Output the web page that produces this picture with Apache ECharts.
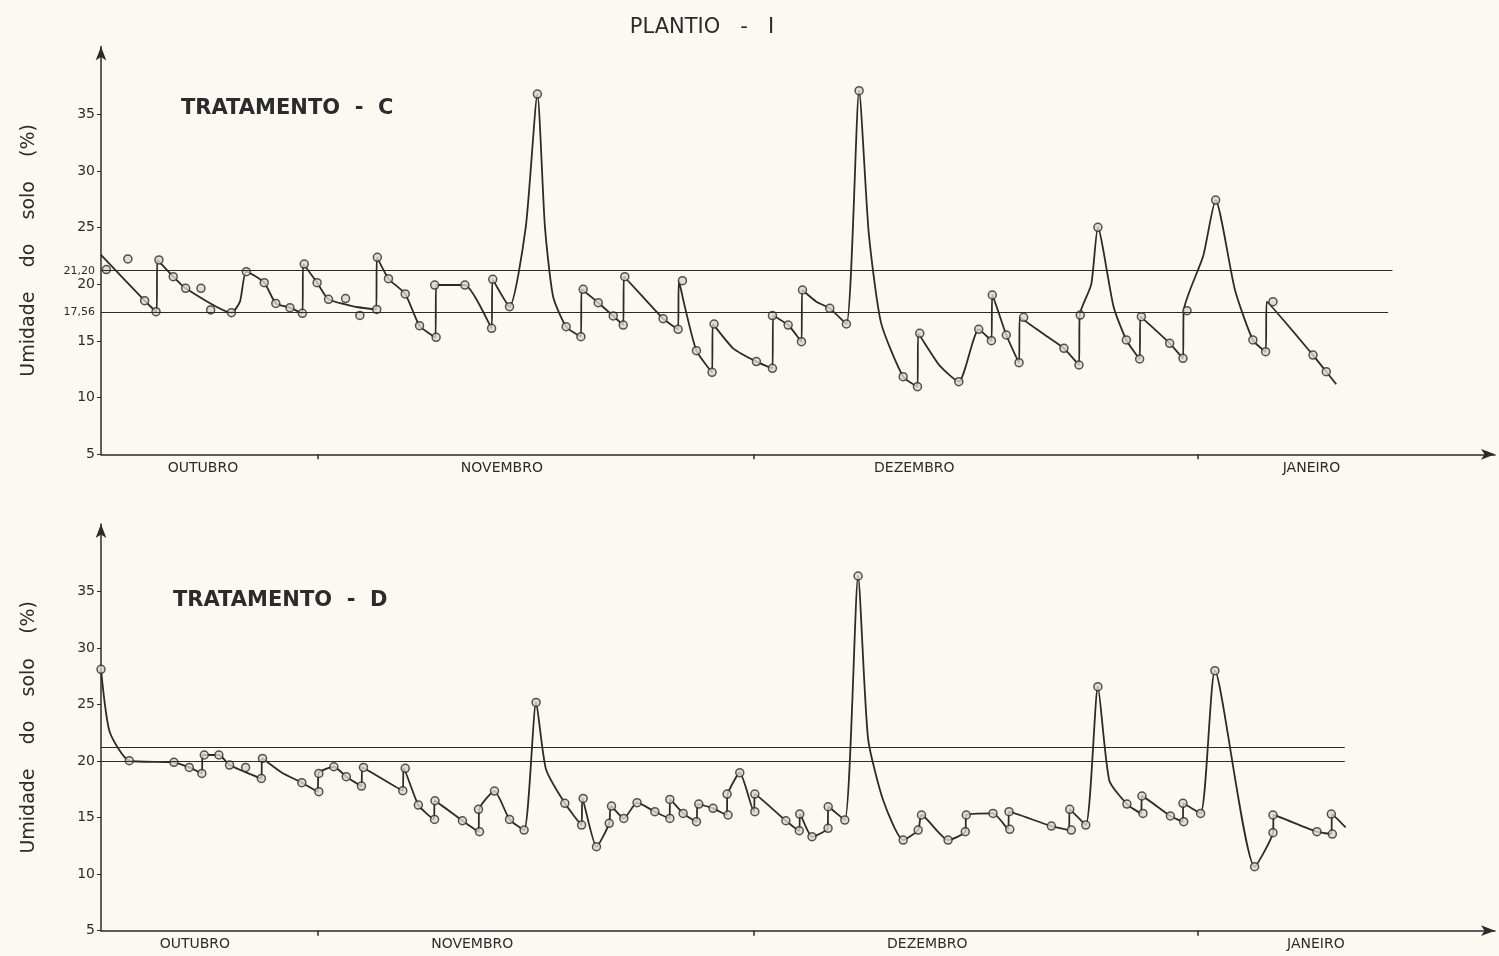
<!DOCTYPE html>
<html><head><meta charset="utf-8">
<script src="https://cdn.jsdelivr.net/npm/echarts@6/dist/echarts.min.js"></script>
<style>html,body{margin:0;padding:0;background:#fbfaf2}#c{width:1499px;height:956px}</style>
</head><body><div id="c"></div>
<script>
// x = days since ~16 October; y = soil moisture (%)
const monthNames = ['OUTUBRO', 'NOVEMBRO', 'DEZEMBRO', 'JANEIRO'];
const monthLabelPosC = [7.06, 27.75, 56.3, 83.8];
const monthLabelPosD = [6.5, 25.7, 57.2, 84.1];
const monthBoundaries = [15.0, 45.2, 75.9];

const yTicks = [5, 10, 15, 20, 25, 30, 35];
const yLabelValsC = [5, 10, 15, 17.56, 20, 21.2, 25, 30, 35];
const yLabelTextC = ['5', '10', '15', '17,56', '20', '21,20', '25', '30', '35'];

const refLevelsC = [21.2, 17.56];
const refEndC = [89.4, 89.1];
const refLevelsD = [21.2, 20.0];
const refEndD = [86.1, 86.1];

// Tratamento C: drawn curve
const cCurve = [
  [0.00,22.6],[3.02,18.56],[3.85,17.55],[3.90,22.15],[5.00,20.68],[5.86,19.65],[9.03,17.5],
  [9.62,18.47],[10.06,21.12],[11.30,20.15],[12.10,18.32],[13.08,17.94],[13.94,17.44],
  [14.00,21.79],[14.96,20.15],[15.75,18.68],[17.70,18.0],[19.05,17.79],[19.10,22.38],
  [19.90,20.5],[21.06,19.15],[22.05,16.35],[23.15,15.32],[23.20,19.94],[25.19,19.94],
  [27.04,16.12],[27.10,20.44],[28.28,18.03],[29.40,25.0],[30.21,36.79],
  [30.73,25.1],[31.30,18.9],[32.20,16.26],[33.22,15.38],
  [33.27,19.56],[34.42,18.38],[35.46,17.21],[36.15,16.41],[36.20,20.68],[38.91,16.97],
  [39.95,16.03],[40.00,20.32],[40.42,18.0],[41.22,14.15],[42.30,12.24],[42.35,16.5],
  [43.76,14.35],[45.37,13.18],[46.48,12.59],[46.53,17.24],[47.57,16.41],[48.49,14.94],
  [48.54,19.5],[49.52,18.47],[50.45,17.88],[51.60,16.5],[52.48,37.09],
  [53.15,24.5],[54.00,16.6],[55.53,11.85],[56.52,10.97],[56.57,15.68],
  [58.06,12.82],[59.38,11.41],[60.76,16.03],[61.64,15.03],[61.70,19.06],[62.67,15.53],
  [63.55,13.09],[63.60,17.09],[65.44,15.44],[66.66,14.35],[67.70,12.88],[67.75,17.29],
  [68.55,20.0],[69.01,25.03],[70.10,18.0],[70.98,15.09],[71.90,13.41],
  [71.95,17.15],[73.98,14.79],[74.90,13.47],[74.95,17.68],[76.30,22.5],
  [77.16,27.44],[78.50,19.5],[79.74,15.09],[80.62,14.06],[80.70,18.47],
  [83.90,13.76],[84.82,12.29],[85.51,11.18]
];
// Tratamento C: observed points
const cPoints = [
  [0.37,21.3],[1.86,22.24],[3.02,18.56],[3.81,17.59],[4.01,22.15],[5.0,20.68],[5.86,19.65],
  [6.92,19.65],[7.59,17.74],[9.03,17.5],[10.06,21.12],[11.3,20.15],[12.1,18.32],[13.08,17.94],
  [13.94,17.44],[14.07,21.79],[14.96,20.15],[15.75,18.68],[16.93,18.74],[17.92,17.26],
  [19.09,17.79],[19.13,22.38],[19.9,20.5],[21.06,19.15],[22.05,16.35],[23.2,15.32],
  [23.1,19.94],[25.19,19.94],[27.04,16.12],[27.12,20.44],[28.28,18.03],[30.21,36.79],
  [32.2,16.26],[33.22,15.38],[33.38,19.56],[34.42,18.38],[35.46,17.21],[36.15,16.41],
  [36.26,20.68],[38.91,16.97],[39.95,16.03],[40.25,20.32],[41.22,14.15],[42.3,12.24],
  [42.44,16.5],[45.37,13.18],[46.48,12.59],[46.48,17.24],[47.57,16.41],[48.49,14.94],
  [48.56,19.5],[50.45,17.88],[51.6,16.5],[52.48,37.09],[55.53,11.85],[56.52,10.97],
  [56.68,15.68],[59.38,11.41],[60.76,16.03],[61.64,15.03],[61.7,19.06],[62.67,15.53],
  [63.55,13.09],[63.87,17.09],[66.66,14.35],[67.7,12.88],[67.79,17.29],[69.01,25.03],
  [70.98,15.09],[71.9,13.41],[72.02,17.15],[73.98,14.79],[74.9,13.47],[75.18,17.68],
  [77.16,27.44],[79.74,15.09],[80.62,14.06],[81.13,18.47],[83.9,13.76],[84.82,12.29]
];

// Tratamento D: drawn curve
const dCurve = [
  [0.00,28.13],[0.60,22.6],[1.96,20.04],[5.05,19.9],[6.11,19.45],[6.98,18.92],
  [7.03,20.55],[8.16,20.55],[8.90,19.66],[11.10,18.48],[11.15,20.25],[12.50,19.0],[13.90,18.1],
  [15.00,17.3],[15.05,18.92],[16.12,19.51],[16.98,18.63],[18.03,17.8],[18.08,19.45],
  [20.89,17.39],[20.95,19.37],[21.97,16.12],[23.05,14.85],[23.10,16.5],[25.02,14.73],
  [26.13,13.76],[26.18,15.74],[27.24,17.36],[28.28,14.85],[29.29,13.91],[30.12,25.2],
  [30.80,19.3],[32.11,16.27],[33.27,14.35],[33.32,16.71],[34.30,12.43],
  [35.18,14.5],[35.30,16.03],[36.19,14.94],[37.11,16.33],[38.34,15.53],[39.35,14.94],
  [39.40,16.62],[40.30,15.38],[41.22,14.65],[41.30,16.21],[42.37,15.83],[43.30,15.24],
  [43.38,17.09],[44.22,18.98],[45.20,15.53],[45.26,17.09],[47.41,14.73],[48.34,13.85],
  [48.39,15.32],[49.22,13.32],[50.30,14.06],[50.35,15.97],[51.49,14.79],[52.41,36.39],
  [53.10,22.0],[54.14,16.56],[55.53,13.02],[56.57,13.91],
  [56.80,15.24],[58.64,13.02],[59.83,13.76],[59.90,15.24],[61.75,15.38],[62.80,13.97],
  [62.86,15.53],[65.79,14.26],[67.00,13.91],[67.06,15.74],[68.17,14.35],[69.01,26.59],
  [69.80,18.3],[71.02,16.21],[72.00,15.38],[72.06,16.92],[74.03,15.15],
  [74.88,14.65],[74.93,16.27],[76.12,15.38],[77.11,28.01],[79.86,10.66],[81.13,13.67],
  [81.18,15.24],[84.17,13.76],[85.17,13.55],[85.22,15.32],[86.16,14.14]
];
// Tratamento D: observed points
const dPoints = [
  [0,28.13],[1.96,20.04],[5.05,19.9],[6.11,19.45],[6.98,18.92],[7.15,20.55],[8.16,20.55],
  [8.9,19.66],[10.01,19.45],[11.1,18.48],[11.18,20.25],[13.9,18.1],[15.08,17.3],[15.08,18.92],
  [16.12,19.51],[16.98,18.63],[18.03,17.8],[18.17,19.45],[20.89,17.39],[21.06,19.37],
  [21.97,16.12],[23.09,14.85],[23.12,16.5],[25.02,14.73],[26.2,13.76],[26.13,15.74],
  [27.24,17.36],[28.28,14.85],[29.29,13.91],[30.12,25.2],[32.11,16.27],[33.27,14.35],
  [33.38,16.71],[34.3,12.43],[35.18,14.5],[35.34,16.03],[36.19,14.94],[37.11,16.33],
  [38.34,15.53],[39.38,14.94],[39.38,16.62],[40.3,15.38],[41.22,14.65],[41.38,16.21],
  [42.37,15.83],[43.41,15.24],[43.34,17.09],[44.22,18.98],[45.26,15.53],[45.26,17.09],
  [47.41,14.73],[48.34,13.85],[48.37,15.32],[49.22,13.32],[50.33,14.06],[50.34,15.97],
  [51.49,14.79],[52.41,36.39],[55.53,13.02],[56.57,13.91],[56.8,15.24],[58.64,13.02],
  [59.83,13.76],[59.9,15.24],[61.75,15.38],[62.91,13.97],[62.86,15.53],[65.79,14.26],
  [67.17,13.91],[67.06,15.74],[68.17,14.35],[69.01,26.59],[71.02,16.21],[72.13,15.38],
  [72.06,16.92],[74.03,15.15],[74.95,14.65],[74.9,16.27],[76.12,15.38],[77.11,28.01],
  [79.86,10.66],[81.13,13.67],[81.13,15.24],[84.17,13.76],[85.24,13.55],[85.17,15.32]
];

const INK = '#2b2b2b';
const FONT = 'DejaVu Sans';

function xAxisFor(idx, labelPos) {
  return {
    type: 'value', gridIndex: idx, min: 0, max: 96.5,
    splitLine: { show: false },
    axisLine: { lineStyle: { color: INK, width: 1.5 }, symbol: ['none', 'arrow'], symbolSize: [8, 14] },
    axisTick: { show: true, customValues: monthBoundaries, length: 5, lineStyle: { color: INK, width: 1.5 } },
    axisLabel: {
      customValues: labelPos, margin: 7, color: INK, fontFamily: FONT, fontSize: 14,
      formatter: v => { const i = labelPos.findIndex(p => Math.abs(p - v) < 1e-6); return i >= 0 ? monthNames[i] : ''; }
    }
  };
}
function yAxisFor(idx, labelVals, labelTexts) {
  return {
    type: 'value', gridIndex: idx, min: 5, max: 41, interval: 5,
    name: 'Umidade    do    solo    (%)', nameLocation: 'middle', nameGap: 62,
    nameTextStyle: { fontFamily: FONT, fontSize: 19, color: INK },
    splitLine: { show: false },
    axisLine: { show: true, lineStyle: { color: INK, width: 1.5 }, symbol: ['none', 'arrow'], symbolSize: [8, 14] },
    axisTick: { show: true, customValues: yTicks, length: 4, lineStyle: { color: INK } },
    axisLabel: {
      customValues: labelVals, margin: 6, color: INK, fontFamily: FONT, fontSize: 14,
      formatter: v => {
        const i = labelVals.findIndex(p => Math.abs(p - v) < 1e-6);
        const t = i >= 0 ? labelTexts[i] : '';
        return t.indexOf(',') >= 0 ? '{s|' + t + '}' : t;
      },
      rich: { s: { fontSize: 11, fontFamily: FONT, color: INK } }
    }
  };
}
function refLines(levels, ends) {
  return levels.map((lv, i) => [{ coord: [0, lv] }, { coord: [ends[i], lv] }]);
}
function curveSeries(idx, data, levels, ends) {
  return {
    type: 'line', xAxisIndex: idx, yAxisIndex: idx, data: data, smooth: 0.2,
    showSymbol: false, lineStyle: { color: INK, width: 1.8 }, silent: true, z: 3,
    markLine: { silent: true, symbol: 'none', label: { show: false },
      lineStyle: { color: INK, width: 1.2, type: 'solid' }, data: refLines(levels, ends) }
  };
}
function pointSeries(idx, data) {
  return {
    type: 'scatter', xAxisIndex: idx, yAxisIndex: idx, data: data, symbol: 'circle', symbolSize: 8,
    itemStyle: { color: '#d9d6c8', borderColor: INK, borderWidth: 1.5 }, z: 4, silent: true
  };
}

const chart = echarts.init(document.getElementById('c'));
chart.setOption({
  backgroundColor: '#fbfaf2',
  animation: false,
  title: [
    { text: 'PLANTIO   -   I', left: 697, top: 12, textAlign: 'center',
      textStyle: { fontFamily: FONT, fontSize: 21, fontWeight: 'normal', color: INK } },
    { text: 'TRATAMENTO  -  C', left: 176, top: 93,
      textStyle: { fontFamily: FONT, fontSize: 21, fontWeight: 'bold', color: INK } },
    { text: 'TRATAMENTO  -  D', left: 168, top: 585,
      textStyle: { fontFamily: FONT, fontSize: 21, fontWeight: 'bold', color: INK } }
  ],
  grid: [
    { left: 101, right: 4, top: 46.4, height: 407.9 },
    { left: 101, right: 4, top: 523.9, height: 406.8 }
  ],
  xAxis: [xAxisFor(0, monthLabelPosC), xAxisFor(1, monthLabelPosD)],
  yAxis: [yAxisFor(0, yLabelValsC, yLabelTextC), yAxisFor(1, yTicks, yTicks.map(String))],
  series: [
    curveSeries(0, cCurve, refLevelsC, refEndC),
    pointSeries(0, cPoints),
    curveSeries(1, dCurve, refLevelsD, refEndD),
    pointSeries(1, dPoints)
  ]
});
</script></body></html>
